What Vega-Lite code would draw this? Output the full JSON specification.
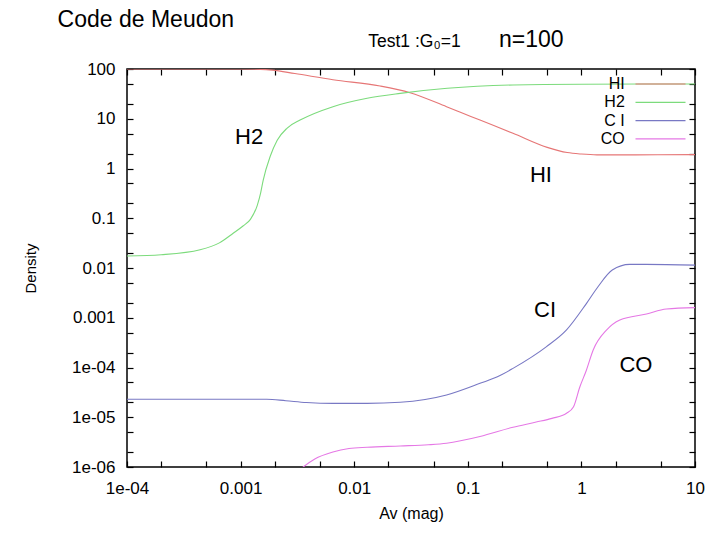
{
  "$schema": "https://vega.github.io/schema/vega-lite/v6.json",
  "width": 568,
  "height": 398,
  "autosize": {"type": "none"},
  "padding": {"left": 127, "top": 69, "right": 25, "bottom": 73},
  "background": "white",
  "config": {
    "view": {"stroke": "#000", "strokeWidth": 1.5},
    "font": "Liberation Sans",
    "axis": {"grid": false, "domain": false, "ticks": true, "tickColor": "#000", "tickWidth": 1.2, "tickSize": 6, "offset": -6, "zindex": 1, "labelColor": "#000", "titleColor": "#000", "labelFont": "Liberation Sans", "titleFont": "Liberation Sans", "titleFontWeight": "normal"}
  },
  "datasets": {
    "curves": [
      {"species": "HI", "av": 0.0001, "density": 100},
      {"species": "HI", "av": 0.001, "density": 100},
      {"species": "HI", "av": 0.0015, "density": 98.5},
      {"species": "HI", "av": 0.0019, "density": 95},
      {"species": "HI", "av": 0.003, "density": 81},
      {"species": "HI", "av": 0.0065, "density": 61},
      {"species": "HI", "av": 0.0169, "density": 45.5},
      {"species": "HI", "av": 0.031, "density": 33.4},
      {"species": "HI", "av": 0.065, "density": 17.5},
      {"species": "HI", "av": 0.085, "density": 13.7},
      {"species": "HI", "av": 0.128, "density": 9.4},
      {"species": "HI", "av": 0.25, "density": 5.1},
      {"species": "HI", "av": 0.5, "density": 2.66},
      {"species": "HI", "av": 0.75, "density": 2.09},
      {"species": "HI", "av": 1.0, "density": 1.95},
      {"species": "HI", "av": 1.37, "density": 1.88},
      {"species": "HI", "av": 3, "density": 1.88},
      {"species": "HI", "av": 10, "density": 1.9},

      {"species": "H2", "av": 0.0001, "density": 0.0174},
      {"species": "H2", "av": 0.0002, "density": 0.0185},
      {"species": "H2", "av": 0.00044, "density": 0.0233},
      {"species": "H2", "av": 0.00065, "density": 0.032},
      {"species": "H2", "av": 0.00086, "density": 0.05},
      {"species": "H2", "av": 0.00105, "density": 0.07},
      {"species": "H2", "av": 0.00122, "density": 0.095},
      {"species": "H2", "av": 0.0014, "density": 0.18},
      {"species": "H2", "av": 0.0015, "density": 0.32},
      {"species": "H2", "av": 0.00158, "density": 0.58},
      {"species": "H2", "av": 0.00182, "density": 1.74},
      {"species": "H2", "av": 0.0021, "density": 3.7},
      {"species": "H2", "av": 0.00257, "density": 6.5},
      {"species": "H2", "av": 0.00334, "density": 9.4},
      {"species": "H2", "av": 0.0065, "density": 17.5},
      {"species": "H2", "av": 0.013, "density": 25.8},
      {"species": "H2", "av": 0.0254, "density": 32.4},
      {"species": "H2", "av": 0.066, "density": 40.9},
      {"species": "H2", "av": 0.25, "density": 47.7},
      {"species": "H2", "av": 1, "density": 49.5},
      {"species": "H2", "av": 10, "density": 50},

      {"species": "C I", "av": 0.0001, "density": 2.3e-5},
      {"species": "C I", "av": 0.001, "density": 2.3e-5},
      {"species": "C I", "av": 0.0017, "density": 2.3e-5},
      {"species": "C I", "av": 0.0025, "density": 2.15e-5},
      {"species": "C I", "av": 0.0038, "density": 1.98e-5},
      {"species": "C I", "av": 0.0065, "density": 1.9e-5},
      {"species": "C I", "av": 0.013, "density": 1.9e-5},
      {"species": "C I", "av": 0.0254, "density": 2.0e-5},
      {"species": "C I", "av": 0.065, "density": 2.8e-5},
      {"species": "C I", "av": 0.128, "density": 4.8e-5},
      {"species": "C I", "av": 0.19, "density": 6.8e-5},
      {"species": "C I", "av": 0.25, "density": 9.6e-5},
      {"species": "C I", "av": 0.49, "density": 2.6e-4},
      {"species": "C I", "av": 0.74, "density": 5.7e-4},
      {"species": "C I", "av": 1.11, "density": 1.95e-3},
      {"species": "C I", "av": 1.4, "density": 4.2e-3},
      {"species": "C I", "av": 1.87, "density": 9.1e-3},
      {"species": "C I", "av": 2.66, "density": 0.0118},
      {"species": "C I", "av": 3.7, "density": 0.0118},
      {"species": "C I", "av": 10, "density": 0.0114},

      {"species": "CO", "av": 0.003, "density": 7.0e-7},
      {"species": "CO", "av": 0.00356, "density": 1.0e-6},
      {"species": "CO", "av": 0.0045, "density": 1.45e-6},
      {"species": "CO", "av": 0.0065, "density": 2.0e-6},
      {"species": "CO", "av": 0.009, "density": 2.35e-6},
      {"species": "CO", "av": 0.013, "density": 2.5e-6},
      {"species": "CO", "av": 0.0254, "density": 2.65e-6},
      {"species": "CO", "av": 0.045, "density": 2.8e-6},
      {"species": "CO", "av": 0.065, "density": 3.0e-6},
      {"species": "CO", "av": 0.128, "density": 4.1e-6},
      {"species": "CO", "av": 0.25, "density": 6.3e-6},
      {"species": "CO", "av": 0.4, "density": 8.0e-6},
      {"species": "CO", "av": 0.55, "density": 9.5e-6},
      {"species": "CO", "av": 0.74, "density": 1.2e-5},
      {"species": "CO", "av": 0.85, "density": 1.6e-5},
      {"species": "CO", "av": 0.97, "density": 4.1e-5},
      {"species": "CO", "av": 1.1, "density": 8.5e-5},
      {"species": "CO", "av": 1.27, "density": 2.25e-4},
      {"species": "CO", "av": 1.67, "density": 5.7e-4},
      {"species": "CO", "av": 2.18, "density": 9.0e-4},
      {"species": "CO", "av": 3.74, "density": 1.19e-3},
      {"species": "CO", "av": 5.6, "density": 1.5e-3},
      {"species": "CO", "av": 10, "density": 1.6e-3}
    ],
    "labels": [
      {"text": "H2", "av": 0.00119, "density": 4.3},
      {"text": "HI", "av": 0.44, "density": 0.74},
      {"text": "CI", "av": 0.479, "density": 0.00143},
      {"text": "CO", "av": 3.02, "density": 0.000112}
    ],
    "header": [
      {"role": "title", "text": "Code de Meudon", "av": 0.0000245, "density": 698},
      {"role": "run", "text": "Test1 :G₀=1", "av": 0.0133, "density": 277},
      {"role": "n", "text": "n=100", "av": 0.188, "density": 277}
    ]
  },
  "layer": [
    {
      "data": {"name": "curves"},
      "mark": {"type": "line", "clip": true, "strokeWidth": 1.1, "interpolate": "monotone"},
      "encoding": {
        "x": {"field": "av", "type": "quantitative",
          "scale": {"type": "log", "domain": [0.0001, 10], "nice": false},
          "axis": {"orient": "bottom", "title": "Av (mag)", "titleFontSize": 16, "titlePadding": 9, "labelFontSize": 17, "labelPadding": 13, "labelFlush": false, "labelOverlap": false,
            "values": [0.0001, 0.0002, 0.0005, 0.001, 0.002, 0.005, 0.01, 0.02, 0.05, 0.1, 0.2, 0.5, 1, 2, 5, 10],
            "labelExpr": "abs(log(datum.value)/LN10 - round(log(datum.value)/LN10)) < 0.001 ? (datum.value < 0.001 ? '1e-0' + round(-log(datum.value)/LN10) : format(datum.value, '~g')) : ''"}},
        "y": {"field": "density", "type": "quantitative",
          "scale": {"type": "log", "domain": [0.000001, 100], "nice": false},
          "axis": {"orient": "left", "title": "Density", "titleFontSize": 15, "titlePadding": 33, "labelFontSize": 17, "labelPadding": 12, "labelFlush": false, "labelOverlap": false,
            "values": [0.000001, 0.000002, 0.000005, 0.00001, 0.00002, 0.00005, 0.0001, 0.0002, 0.0005, 0.001, 0.002, 0.005, 0.01, 0.02, 0.05, 0.1, 0.2, 0.5, 1, 2, 5, 10, 20, 50, 100],
            "labelExpr": "abs(log(datum.value)/LN10 - round(log(datum.value)/LN10)) < 0.001 ? (datum.value < 0.001 ? '1e-0' + round(-log(datum.value)/LN10) : format(datum.value, '~g')) : ''"}},
        "color": {"field": "species", "type": "nominal",
          "scale": {"domain": ["HI", "H2", "C I", "CO"], "range": ["#e67676", "#7cdb7c", "#7878c4", "#e578e5"]},
          "legend": {"title": null, "orient": "none", "legendX": 525.5, "legendY": 7, "padding": 0,
            "symbolType": "M-5,0H5", "symbolSize": 100, "symbolStrokeWidth": 1.2,
            "labelAlign": "right", "labelOffset": -43.7, "labelFontSize": 16, "labelFont": "Liberation Sans", "labelColor": "#000", "rowPadding": 2.3}}
      }
    },
    {
      "data": {"name": "labels"},
      "mark": {"type": "text", "fontSize": 22, "font": "Liberation Sans", "color": "#000", "align": "center", "baseline": "middle"},
      "encoding": {
        "x": {"field": "av", "type": "quantitative",
          "axis": {"orient": "top", "labels": false, "title": null,
            "values": [0.0001, 0.0002, 0.0005, 0.001, 0.002, 0.005, 0.01, 0.02, 0.05, 0.1, 0.2, 0.5, 1, 2, 5, 10]}},
        "y": {"field": "density", "type": "quantitative",
          "axis": {"orient": "right", "labels": false, "title": null,
            "values": [0.000001, 0.000002, 0.000005, 0.00001, 0.00002, 0.00005, 0.0001, 0.0002, 0.0005, 0.001, 0.002, 0.005, 0.01, 0.02, 0.05, 0.1, 0.2, 0.5, 1, 2, 5, 10, 20, 50, 100]}},
        "text": {"field": "text"}
      }
    },
    {
      "data": {"name": "header"},
      "transform": [{"filter": "datum.role === 'title'"}],
      "mark": {"type": "text", "font": "Liberation Sans", "fontSize": 23, "color": "#000", "align": "left", "baseline": "alphabetic"},
      "encoding": {
        "x": {"field": "av", "type": "quantitative", "axis": null},
        "y": {"field": "density", "type": "quantitative", "axis": null},
        "text": {"field": "text"}
      }
    },
    {
      "data": {"name": "header"},
      "transform": [{"filter": "datum.role === 'run'"}],
      "mark": {"type": "text", "font": "Liberation Sans", "fontSize": 17.5, "color": "#000", "align": "left", "baseline": "alphabetic"},
      "encoding": {
        "x": {"field": "av", "type": "quantitative", "axis": null},
        "y": {"field": "density", "type": "quantitative", "axis": null},
        "text": {"field": "text"}
      }
    },
    {
      "data": {"name": "header"},
      "transform": [{"filter": "datum.role === 'n'"}],
      "mark": {"type": "text", "font": "Liberation Sans", "fontSize": 23, "color": "#000", "align": "left", "baseline": "alphabetic"},
      "encoding": {
        "x": {"field": "av", "type": "quantitative", "axis": null},
        "y": {"field": "density", "type": "quantitative", "axis": null},
        "text": {"field": "text"}
      }
    }
  ]
}
